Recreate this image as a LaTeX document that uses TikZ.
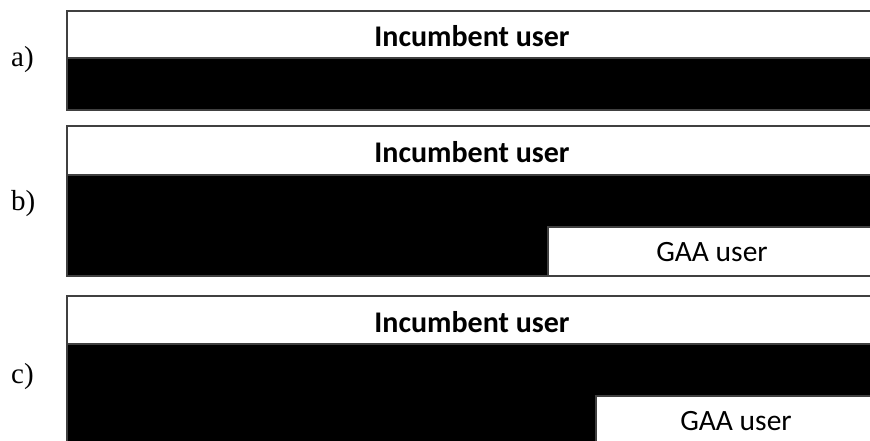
\documentclass[tikz,border=0pt]{standalone}
\usepackage{fontspec}
\setmainfont{Liberation Serif}
\newfontfamily\boxfont{Carlito}
\begin{document}
\begin{tikzpicture}[x=1pt,y=-1pt,
  band/.style={draw=black!75,line width=1.2pt},
  whiteband/.style={band,fill=white},
  blackband/.style={band,fill=black},
  inctext/.style={anchor=base,font=\boxfont\bfseries\fontsize{30}{32}\selectfont,inner sep=0pt},
  gaatext/.style={anchor=base,font=\boxfont\fontsize{29.5}{32}\selectfont,inner sep=0pt},
  caselabel/.style={anchor=west,font=\fontsize{29}{31}\selectfont,inner sep=0pt}]
\useasboundingbox (0,0) rectangle (870,441);
\clip (0,0) rectangle (870,441);

% panel a: incumbent only
\path[blackband] (67,58) rectangle (880,110);
\path[whiteband] (67,11) rectangle (880,58);
\node[inctext] (inca) at (472,47) {Incumbent user};
\node[caselabel] (la) at (11,60) {a)};

% panel b: incumbent with a GAA user
\path[blackband] (67,175) rectangle (880,276);
\path[whiteband] (67,126) rectangle (880,175);
\path[whiteband] (548,227) rectangle (880,276);
\node[inctext] (incb) at (472,162) {Incumbent user};
\node[gaatext] (gaab) at (712,261) {GAA user};
\node[caselabel] (lb) at (11,204) {b)};

% panel c: incumbent with a narrower GAA user
\path[blackband] (67,344) rectangle (880,447);
\path[whiteband] (67,296) rectangle (880,344);
\path[whiteband] (596,396) rectangle (880,447);
\node[inctext] (incc) at (472,332) {Incumbent user};
\node[gaatext] (gaac) at (736,430) {GAA user};
\node[caselabel] (lc) at (11,377) {c)};
\end{tikzpicture}
\end{document}
